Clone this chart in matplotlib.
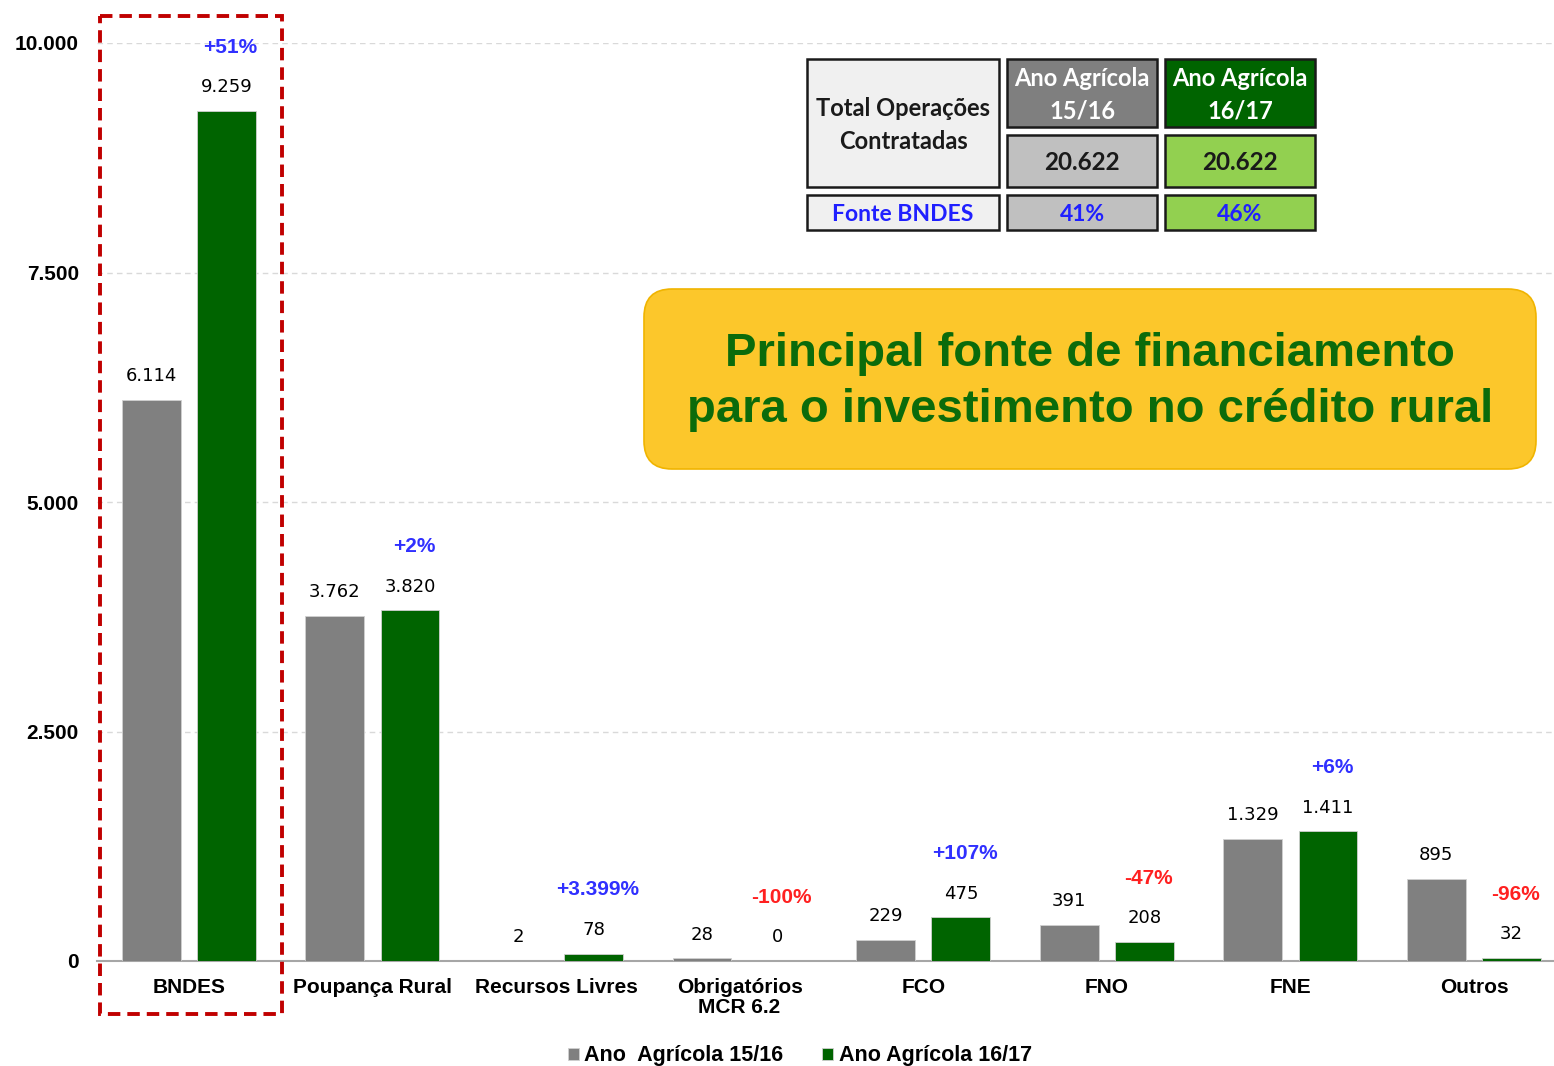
import matplotlib

matplotlib.use("Agg")

import matplotlib.pyplot as plt
import numpy as np
from matplotlib.patches import Rectangle, FancyBboxPatch
from matplotlib.ticker import FuncFormatter

categories = ["BNDES", "Poupança Rural", "Recursos Livres", "Obrigatórios\nMCR 6.2",
              "FCO", "FNO", "FNE", "Outros"]
ano_1516 = [6114, 3762, 2, 28, 229, 391, 1329, 895]
ano_1617 = [9259, 3820, 78, 0, 475, 208, 1411, 32]
variacao = ["+51%", "+2%", "+3.399%", "-100%", "+107%", "-47%", "+6%", "-96%"]
series_names = ["Ano  Agrícola 15/16", "Ano Agrícola 16/17"]

table_title = "Total Operações\nContratadas"
table_headers = ["Ano Agrícola\n15/16", "Ano Agrícola\n16/17"]
table_totals = ["20.622", "20.622"]
table_fonte_label = "Fonte BNDES"
table_fonte = ["41%", "46%"]
box_text = "Principal fonte de financiamento\npara o investimento no crédito rural"

GRAY = "#808080"
GREEN = "#006400"
BLUE = "#3030FF"
RED = "#FF2020"

W, H = 1554, 1066


def fmt_br(v, pos=None):
    return f"{int(v):,}".replace(",", ".")


fig = plt.figure(figsize=(W / 100, H / 100), dpi=100, facecolor="white")

# main chart axes in pixel layout
x0_px, x1_px, y_top_px, y0_px = 97, 1554, 43, 961
ax = fig.add_axes([x0_px / W, 1 - y0_px / H, (x1_px - x0_px) / W, (y0_px - y_top_px) / H])

x = np.arange(len(categories))
bw = 0.32
off = 0.205
ax.bar(x - off, ano_1516, bw, color=GRAY, edgecolor="#d0d0d0", linewidth=0.6,
       label=series_names[0], zorder=3)
ax.bar(x + off, ano_1617, bw, color=GREEN, edgecolor="#d0d0d0", linewidth=0.6,
       label=series_names[1], zorder=3)

step = 183.6
ax.set_xlim(-0.5, -0.5 + (x1_px - x0_px) / step)
ax.set_ylim(0, 10000)
ax.set_yticks([0, 2500, 5000, 7500, 10000])
ax.yaxis.set_major_formatter(FuncFormatter(fmt_br))
ax.set_xticks(x)
ax.set_xticklabels(categories, fontfamily="Liberation Sans", fontweight="bold",
                   fontsize=15, linespacing=1.1)
ax.tick_params(axis="x", length=0, pad=12)
ax.tick_params(axis="y", length=0, pad=13)
for lbl in ax.get_yticklabels():
    lbl.set_fontfamily("Liberation Sans")
    lbl.set_fontweight("bold")
    lbl.set_fontsize(15)

ax.yaxis.grid(True, linestyle=(0, (4, 3)), color="#d9d9d9", linewidth=1.0, zorder=0)
for s in ["top", "right", "left"]:
    ax.spines[s].set_visible(False)
ax.spines["bottom"].set_color("#a6a6a6")
ax.spines["bottom"].set_linewidth(1.5)
ax.set_facecolor("none")

for i in range(len(categories)):
    ax.annotate(fmt_br(ano_1516[i]), (x[i] - off, ano_1516[i]), xytext=(0, 17),
                textcoords="offset points", ha="center", va="center", fontsize=13)
    ax.annotate(fmt_br(ano_1617[i]), (x[i] + off, ano_1617[i]), xytext=(0, 17),
                textcoords="offset points", ha="center", va="center", fontsize=13)
    color = RED if variacao[i].startswith("-") else BLUE
    ax.annotate(variacao[i], (x[i] + off, ano_1617[i]), xytext=(3, 46),
                textcoords="offset points", ha="center", va="center", fontsize=15,
                fontfamily="Liberation Sans", fontweight="bold", color=color)

fig.legend(loc="center", bbox_to_anchor=(800 / W, 1 - 1056 / H), ncol=2, frameon=False,
           handlelength=0.5, handleheight=0.5, handletextpad=0.25, columnspacing=1.8,
           prop={"family": "Liberation Sans", "weight": "bold", "size": 15.5})

# overlay in pixel coordinates
ov = fig.add_axes([0, 0, 1, 1])
ov.set_xlim(0, W)
ov.set_ylim(H, 0)
ov.axis("off")
ov.patch.set_alpha(0)

# red dashed highlight around BNDES
ov.add_patch(Rectangle((100, 16), 182, 998, fill=False, edgecolor="#C00000",
                       linewidth=2.8, linestyle=(0, (3.2, 1.8))))


def cell(x0, y0, x1, y1, fc, text, tc, size, weight="bold"):
    ov.add_patch(Rectangle((x0, y0), x1 - x0, y1 - y0, facecolor=fc, edgecolor="#1a1a1a",
                           linewidth=1.8))
    ov.text((x0 + x1) / 2, (y0 + y1) / 2 + 2, text, ha="center", va="center", color=tc,
            fontsize=size, fontweight=weight, fontfamily="Lato", linespacing=1.5)


cell(807, 59, 999, 187, "#F0F0F0", table_title, "#1a1a1a", 17)
cell(1007, 59, 1157, 127, "#7F7F7F", table_headers[0], "white", 17)
cell(1165, 59, 1315, 127, "#006400", table_headers[1], "white", 17)
cell(1007, 135, 1157, 187, "#C0C0C0", table_totals[0], "#1a1a1a", 17.5)
cell(1165, 135, 1315, 187, "#92D050", table_totals[1], "#1a1a1a", 17.5)
cell(807, 195, 999, 230, "#F0F0F0", table_fonte_label, "#2020FF", 16.5)
cell(1007, 195, 1157, 230, "#C0C0C0", table_fonte[0], "#2020FF", 16.5)
cell(1165, 195, 1315, 230, "#92D050", table_fonte[1], "#2020FF", 16.5)

# yellow highlight box
ov.add_patch(FancyBboxPatch((644, 289), 892, 180,
                            boxstyle="round,pad=0,rounding_size=28",
                            facecolor="#FCC72B", edgecolor="#F0B400", linewidth=1.2))
ov.text(1090, 382, box_text, ha="center", va="center", color="#0B6B0B",
        fontsize=34, fontweight="bold", fontfamily="Liberation Sans", linespacing=1.38)

fig.savefig("out.png", dpi=100, facecolor="white")
